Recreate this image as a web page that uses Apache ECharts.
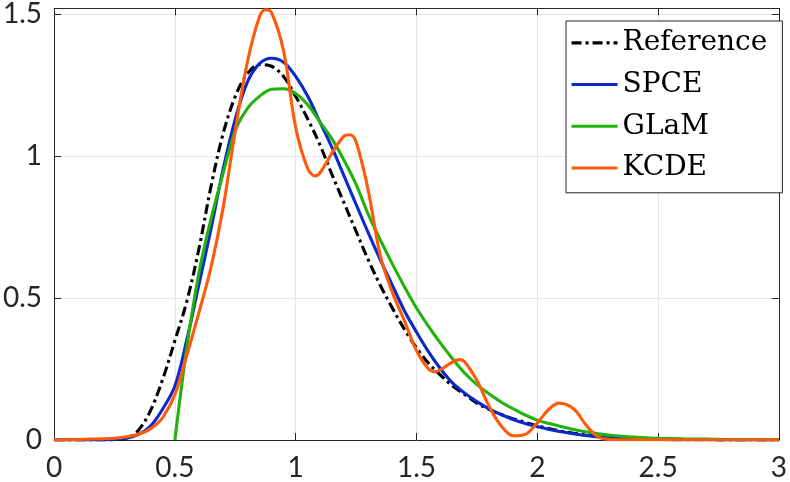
<!DOCTYPE html>
<html><head><meta charset="utf-8">
<script src="https://cdn.jsdelivr.net/npm/echarts@6/dist/echarts.min.js"></script>
<style>html,body{margin:0;padding:0;background:#fff}#c{width:790px;height:482px}</style>
</head><body><div id="c"></div>
<script>
// ---- data ----
const seriesNames = ['Reference', 'SPCE', 'GLaM', 'KCDE'];
const xTicks = [0, 0.5, 1, 1.5, 2, 2.5, 3];
const yTicks = [0, 0.5, 1, 1.5];

const refX = [0,0.05,0.1,0.15,0.2,0.25,0.3,0.35,0.4,0.45,0.5,0.55,0.6,0.65,0.7,0.75,0.8,0.85,0.9,0.95,1.0,1.05,1.1,1.15,1.2,1.25,1.3,1.35,1.4,1.45,1.5,1.55,1.6,1.65,1.7,1.75,1.8,1.85,1.9,1.95,2.0,2.05,2.1,2.15,2.2,2.25,2.3,2.35,2.4,2.45,2.5,2.6,2.7,2.8,2.9,3.0];
const refY = [0,0,0,0,0,0.001,0.006,0.035,0.105,0.215,0.35,0.49,0.675,0.895,1.08,1.21,1.29,1.322,1.316,1.28,1.21,1.13,1.04,0.935,0.835,0.735,0.635,0.545,0.465,0.39,0.325,0.27,0.228,0.19,0.16,0.13,0.108,0.09,0.075,0.062,0.05,0.04,0.031,0.024,0.018,0.013,0.009,0.006,0.004,0.003,0.002,0.001,0.001,0,0,0];

const spceX = [0,0.05,0.1,0.15,0.2,0.25,0.3,0.35,0.4,0.45,0.5,0.55,0.6,0.65,0.7,0.75,0.8,0.85,0.9,0.95,1.0,1.05,1.1,1.15,1.2,1.25,1.3,1.35,1.4,1.45,1.5,1.55,1.6,1.65,1.7,1.75,1.8,1.85,1.9,1.95,2.0,2.05,2.1,2.15,2.2,2.25,2.3,2.35,2.4,2.45,2.5,2.6,2.7,2.8,2.9,3.0];
const spceY = [0,0,0,0,0.001,0.002,0.006,0.02,0.05,0.11,0.19,0.355,0.55,0.745,0.955,1.13,1.26,1.325,1.344,1.33,1.28,1.21,1.12,1.03,0.93,0.83,0.73,0.635,0.545,0.455,0.38,0.31,0.25,0.2,0.165,0.135,0.11,0.09,0.072,0.058,0.047,0.037,0.029,0.022,0.016,0.011,0.008,0.005,0.004,0.003,0.002,0.001,0.001,0,0,0];

const glamX = [0.5,0.55,0.6,0.65,0.7,0.75,0.8,0.85,0.9,0.95,1.0,1.05,1.1,1.15,1.2,1.25,1.3,1.35,1.4,1.45,1.5,1.55,1.6,1.65,1.7,1.75,1.8,1.85,1.9,1.95,2.0,2.05,2.1,2.15,2.2,2.25,2.3,2.35,2.4,2.45,2.5,2.6,2.7,2.8,2.9,3.0];
const glamY = [0,0.33,0.59,0.78,0.94,1.09,1.167,1.21,1.235,1.237,1.22,1.18,1.12,1.06,0.985,0.9,0.795,0.705,0.62,0.54,0.465,0.4,0.34,0.285,0.235,0.195,0.163,0.134,0.11,0.088,0.07,0.058,0.047,0.037,0.029,0.022,0.017,0.013,0.01,0.008,0.006,0.004,0.003,0.002,0.002,0.001];

const kcdeX = [0,0.05,0.1,0.15,0.2,0.25,0.3,0.35,0.4,0.45,0.5,0.55,0.6,0.65,0.7,0.75,0.8,0.85,0.875,0.9,0.95,1.0,1.05,1.08,1.1,1.15,1.2,1.225,1.25,1.3,1.35,1.4,1.45,1.5,1.55,1.58,1.6,1.65,1.68,1.7,1.75,1.8,1.85,1.9,1.95,2.0,2.05,2.09,2.15,2.2,2.25,2.3,2.35,2.5,2.75,3.0];
const kcdeY = [0.001,0.001,0.002,0.003,0.004,0.006,0.011,0.02,0.04,0.08,0.16,0.3,0.45,0.61,0.82,1.09,1.33,1.49,1.515,1.505,1.37,1.1,0.955,0.93,0.94,1.01,1.07,1.075,1.05,0.88,0.65,0.52,0.42,0.315,0.25,0.24,0.248,0.275,0.283,0.275,0.21,0.12,0.05,0.015,0.02,0.06,0.11,0.13,0.11,0.055,0.012,0.002,0.001,0.001,0.001,0.001];

// ---- chart ----
const pairs = (xs, ys) => xs.map((x, i) => [x, ys[i]]);
const axisColor = '#262626';
const gridColor = '#e6e6e6';
const tickFont = 'Lato, "Open Sans", sans-serif';
const isTick = (v, list) => list.some(t => Math.abs(t - v) < 1e-9);
const LW = 3.1;

const chart = echarts.init(document.getElementById('c'), null, {renderer: 'canvas'});
chart.setOption({
  animation: false,
  backgroundColor: '#ffffff',
  grid: {left: 53, right: 7, top: 8, bottom: 41, containLabel: false},
  legend: {
    orient: 'vertical', left: 566, top: 21,
    itemWidth: 46, itemHeight: 4, itemGap: 0,
    padding: [1, 15, 4, 4],
    backgroundColor: '#ffffff', borderColor: axisColor, borderWidth: 1, borderRadius: 0,
    itemStyle: {opacity: 0},
    lineStyle: {width: LW},
    textStyle: {fontFamily: '"DejaVu Serif", serif', fontSize: 28, color: '#000', lineHeight: 41.7},
    data: seriesNames
  },
  xAxis: [{
    type: 'value', min: 0, max: 3, interval: 0.5,
    axisLine: {show: true, onZero: false, lineStyle: {color: axisColor, width: 1}},
    axisTick: {show: true, inside: true, length: 7, lineStyle: {color: axisColor}},
    axisLabel: {show: true, margin: 14, color: axisColor, fontSize: 28, fontFamily: tickFont,
      formatter: v => isTick(v, xTicks) ? String(v) : ''},
    splitLine: {show: true, lineStyle: {color: gridColor, width: 1}}
  }, {
    type: 'value', min: 0, max: 3, interval: 0.5, position: 'top',
    axisLine: {show: true, onZero: false, lineStyle: {color: axisColor, width: 1}},
    axisTick: {show: true, inside: true, length: 7, lineStyle: {color: axisColor}},
    axisLabel: {show: false}, splitLine: {show: false}
  }],
  yAxis: [{
    type: 'value', min: 0, max: 1.52, interval: 0.5,
    axisLine: {show: true, onZero: false, lineStyle: {color: axisColor, width: 1}},
    axisTick: {show: true, inside: true, length: 7, lineStyle: {color: axisColor},
      customValues: yTicks},
    axisLabel: {show: true, margin: 12, color: axisColor, fontSize: 28, fontFamily: tickFont,
      customValues: yTicks, formatter: v => String(v)},
    splitLine: {show: true, lineStyle: {color: gridColor, width: 1}}
  }, {
    type: 'value', min: 0, max: 1.52, interval: 0.5, position: 'right',
    axisLine: {show: true, onZero: false, lineStyle: {color: axisColor, width: 1}},
    axisTick: {show: true, inside: true, length: 7, lineStyle: {color: axisColor},
      customValues: yTicks},
    axisLabel: {show: false}, splitLine: {show: false}
  }],
  series: [
    {name: seriesNames[0], type: 'line', data: pairs(refX, refY), smooth: 0.35, symbol: 'none',
      lineStyle: {color: '#000000', width: LW, type: [10, 4, 3, 4]}, itemStyle: {color: '#000000'}},
    {name: seriesNames[1], type: 'line', data: pairs(spceX, spceY), smooth: 0.35, symbol: 'none',
      lineStyle: {color: '#0a28cc', width: LW}, itemStyle: {color: '#0a28cc'}},
    {name: seriesNames[2], type: 'line', data: pairs(glamX, glamY), smooth: 0.35, symbol: 'none',
      lineStyle: {color: '#22b20c', width: LW}, itemStyle: {color: '#22b20c'}},
    {name: seriesNames[3], type: 'line', data: pairs(kcdeX, kcdeY), smooth: 0.35, symbol: 'none',
      lineStyle: {color: '#ff5a0a', width: LW}, itemStyle: {color: '#ff5a0a'}}
  ]
});
</script></body></html>
